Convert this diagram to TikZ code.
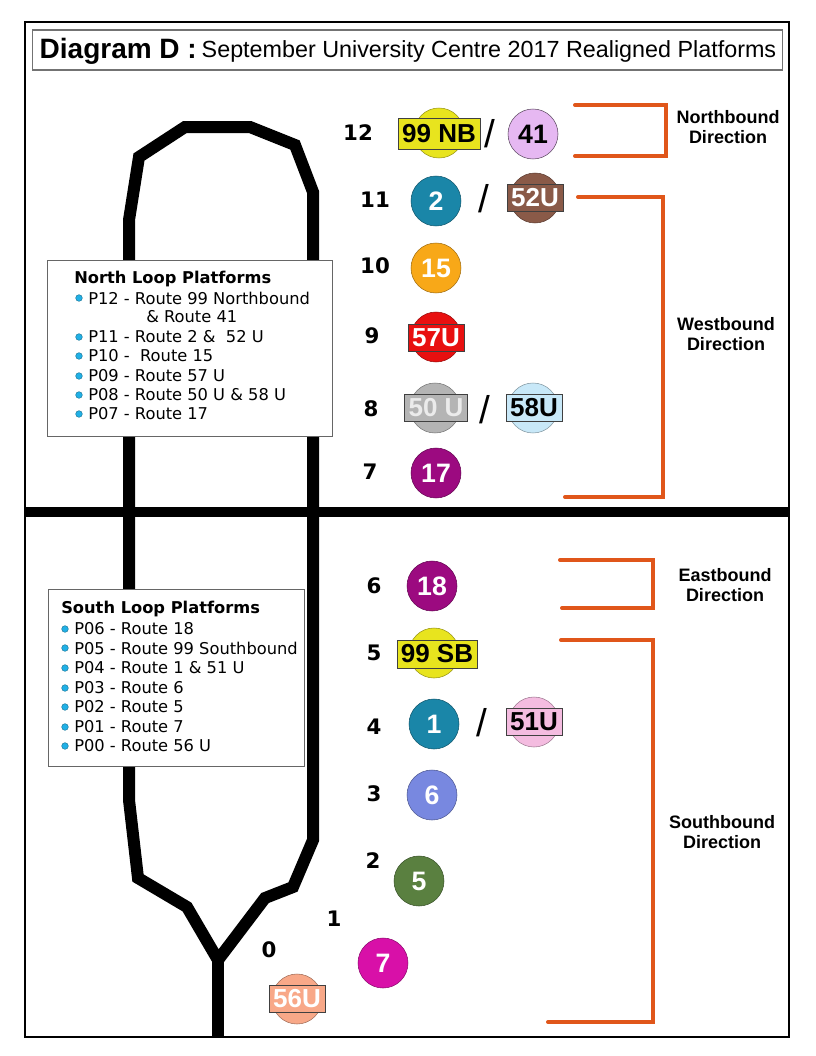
\documentclass[tikz,border=0pt]{standalone}
\usepackage{fontspec}
\setmainfont{Liberation Sans}
\newfontfamily\verdfont{DejaVu Sans}
\usepackage{xcolor}
\usetikzlibrary{positioning}
\definecolor{dirorange}{HTML}{E0561A}
\definecolor{bulletblue}{HTML}{20B0E6}
\definecolor{ryellow}{HTML}{E8E41E}
\definecolor{rlavender}{HTML}{E6B8F2}
\definecolor{rteal}{HTML}{1A86A8}
\definecolor{rbrown}{HTML}{8A5A48}
\definecolor{rorange}{HTML}{F8A818}
\definecolor{rred}{HTML}{E81010}
\definecolor{rgray}{HTML}{B4B4B4}
\definecolor{rlightblue}{HTML}{C8E8F8}
\definecolor{rpurple}{HTML}{9C0A80}
\definecolor{rpink}{HTML}{F4BCE0}
\definecolor{rperiwinkle}{HTML}{7888E0}
\definecolor{rgreen}{HTML}{5A8040}
\definecolor{rmagenta}{HTML}{D810A8}
\definecolor{rsalmon}{HTML}{F8A888}
\begin{document}
\begin{tikzpicture}[
    x=0.75pt,y=-0.75pt,
    routedot/.style={circle,draw=#1!65!black,fill=#1,minimum size=37.5pt,inner sep=0pt,text=white,font=\fontsize{20}{20}\selectfont\bfseries},
    routetag/.style={rectangle,draw=black!75,fill=#1,inner xsep=3pt,inner ysep=0pt,minimum height=20pt,text=white,font=\fontsize{19.5}{20}\selectfont\bfseries},
    platnum/.style={font=\verdfont\fontsize{16}{16}\selectfont\bfseries},
    slashmark/.style={font=\fontsize{29}{29}\selectfont},
    dirlabel/.style={align=center,font=\fontsize{13.5}{15.5}\selectfont\bfseries},
    bracket/.style={dirorange,line width=3pt,line cap=round},
    track/.style={line width=9pt,black},
    legendbox/.style={rectangle,draw=black!60,fill=white,inner sep=0pt},
    legendtext/.style={anchor=west,inner sep=0pt,font=\verdfont\fontsize{12.2}{13}\selectfont},
    legendhead/.style={anchor=west,inner sep=0pt,font=\verdfont\fontsize{12.2}{13}\selectfont\bfseries},
    bullet/.style={circle,fill=bulletblue,draw=bulletblue!60!black,line width=0.3pt,minimum size=5pt,inner sep=0pt},
]
\useasboundingbox (0,0) rectangle (816,1056);
\draw[black,line width=0.8pt] (25,22) rectangle (789,1037);
\node[rectangle,draw=black!55,line width=0.8pt,minimum width=563pt,minimum height=30pt] (titlebox) at (407.5,50) {};
\node[anchor=west,font=\fontsize{21}{21}\selectfont\bfseries] (titlea) at (35,51) {Diagram D :};
\node[anchor=west,font=\fontsize{17.5}{18}\selectfont] (titleb) at (197,51) {September University Centre 2017 Realigned Platforms};

\draw[track] (218,960) -- (187,907) -- (138,878) -- (129,800) -- (129,220) -- (139,157) -- (185,127)
    -- (250,127) -- (295,145) -- (313,192) -- (313,840) -- (293,887) -- (265,898) -- cycle;
\draw[track] (218,960) -- (218,1037);
\draw[line width=8pt,black] (25,512) -- (790,512);

\node[legendbox,minimum width=213.75pt,minimum height=132pt] (northbox) at (189.5,348) {};
\node[legendhead] (northhead) at (74,279) {North Loop Platforms};
\foreach \y/\txt in {298/P12 - Route 99 Northbound,337/P11 - Route 2 \&~ 52 U,356/P10 -~ Route 15,376/P09 - Route 57 U,395/P08 - Route 50 U \& 58 U,414/P07 - Route 17}{
    \node[bullet] at (79,\y) {};
    \node[legendtext] at (88,\y) {\txt};
}
\node[legendtext] (northwrap) at (146,317) {\& Route 41};

\node[legendbox,minimum width=192pt,minimum height=132.75pt] (southbox) at (176,677.5) {};
\node[legendhead] (southhead) at (61,609) {South Loop Platforms};
\foreach \y/\txt in {629/P06 - Route 18,648/P05 - Route 99 Southbound,668/P04 - Route 1 \& 51 U,688/P03 - Route 6,707/P02 - Route 5,727/P01 - Route 7,746/P00 - Route 56 U}{
    \node[bullet] at (65,\y) {};
    \node[legendtext] at (74,\y) {\txt};
}

\node[platnum] (p12) at (358,133) {12};
\node[platnum] (p11) at (375,200) {11};
\node[platnum] (p10) at (375,266) {10};
\node[platnum] (p9) at (372,336) {9};
\node[platnum] (p8) at (371,409) {8};
\node[platnum] (p7) at (370,472) {7};
\node[platnum] (p6) at (374,586) {6};
\node[platnum] (p5) at (374,653) {5};
\node[platnum] (p4) at (374,727) {4};
\node[platnum] (p3) at (374,794) {3};
\node[platnum] (p2) at (373,861) {2};
\node[platnum] (p1) at (334,919) {1};
\node[platnum] (p0) at (269,950) {0};

\node[routedot=ryellow] (r99n) at (439,133) {};
\node[routetag=ryellow,text=black,minimum height=23pt] (t99n) at (439,134) {99 NB};
\node[slashmark] (s12) at (490,134) {/};
\node[routedot=rlavender,text=black,draw=rlavender!40!black] (r41) at (533,134) {41};
\node[routedot=rteal] (r2) at (436,201) {2};
\node[slashmark] (s11) at (484,199) {/};
\node[routedot=rbrown] (r52) at (535,198) {};
\node[routetag=rbrown] (t52) at (535,198) {52U};
\node[routedot=rorange] (r15) at (436,268) {15};
\node[routedot=rred] (r57) at (436,337) {};
\node[routetag=rred] (t57) at (436,338) {57U};
\node[routedot=rgray] (r50) at (435,408) {};
\node[routetag=rgray,text=white!92!black] (t50) at (436,408) {50 U};
\node[slashmark] (s8) at (485,410) {/};
\node[routedot=rlightblue] (r58) at (533,408) {};
\node[routetag=rlightblue,text=black] (t58) at (534,408) {58U};
\node[routedot=rpurple] (r17) at (436,473) {17};

\node[routedot=rpurple] (r18) at (432,586) {18};
\node[routedot=ryellow] (r99s) at (434,653) {};
\node[routetag=ryellow,text=black,minimum height=21pt] (t99s) at (437,654) {99 SB};
\node[routedot=rteal] (r1) at (434,724) {1};
\node[slashmark] (s4) at (482,723) {/};
\node[routedot=rpink] (r51) at (534,722) {};
\node[routetag=rpink,text=black] (t51) at (534,722) {51U};
\node[routedot=rperiwinkle] (r6) at (432,795) {6};
\node[routedot=rgreen] (r5) at (419,881) {5};
\node[routedot=rmagenta] (r7) at (383,963) {7};
\node[routedot=rsalmon] (r56) at (297,999) {};
\node[routetag=rsalmon] (t56) at (297,999) {56U};

\draw[bracket] (575,105) -- (666,105) -- (666,156) -- (575,156);
\draw[bracket] (578,197) -- (663,197) -- (663,497) -- (565,497);
\draw[bracket] (560,560) -- (653,560) -- (653,608) -- (562,608);
\draw[bracket] (561,640) -- (653,640) -- (653,1022) -- (548,1022);
\node[dirlabel] (dnorth) at (728,127) {Northbound\\Direction};
\node[dirlabel] (dwest) at (726,334) {Westbound\\Direction};
\node[dirlabel] (deast) at (725,585) {Eastbound\\Direction};
\node[dirlabel] (dsouth) at (722,832) {Southbound\\Direction};
\end{tikzpicture}
\end{document}
